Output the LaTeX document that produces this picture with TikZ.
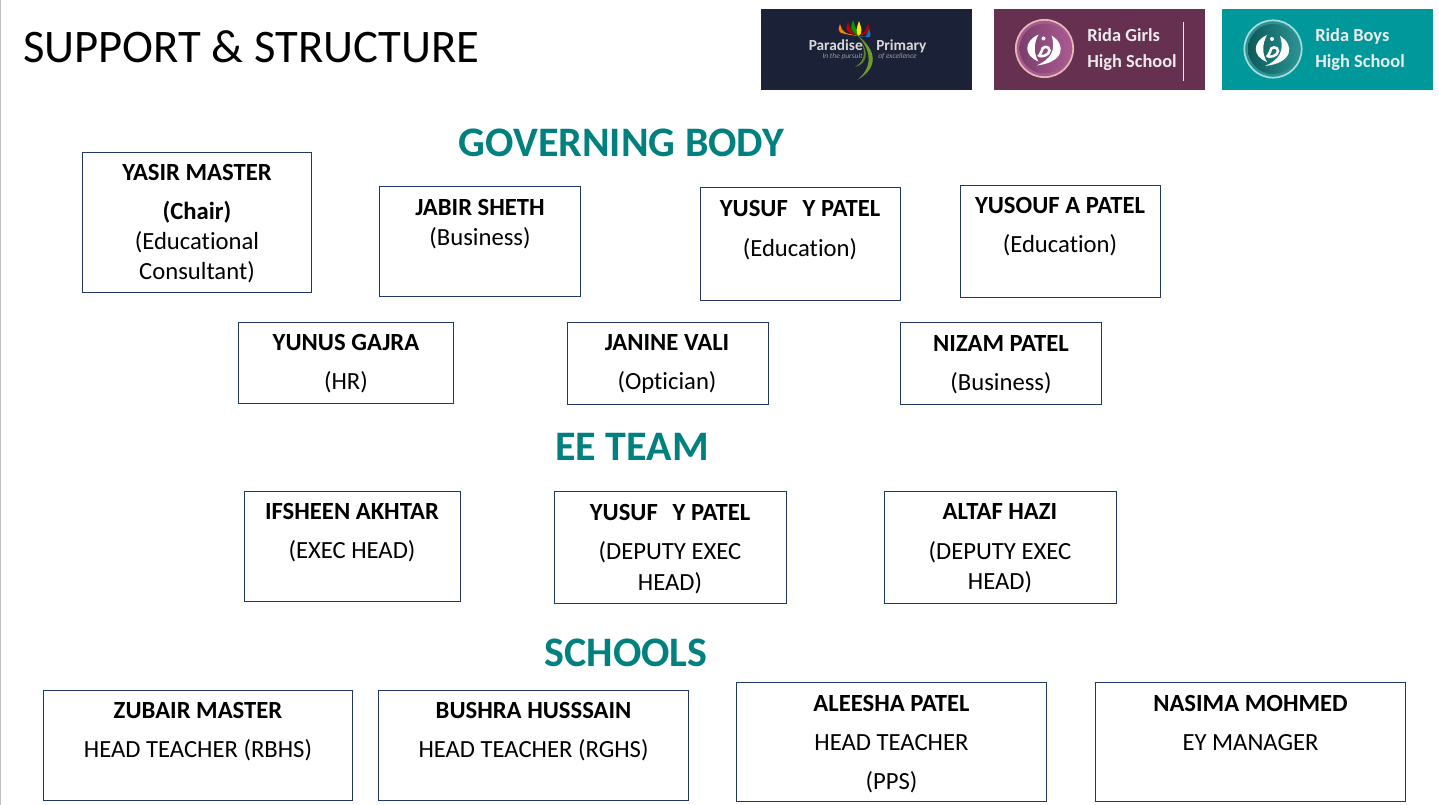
\documentclass[tikz,border=0pt]{standalone}
\usepackage{fontspec}
\setmainfont{Carlito}[Ligatures=CommonOff]
\definecolor{boxline}{HTML}{1F3864}
\definecolor{headteal}{HTML}{00807F}
\definecolor{navylogo}{HTML}{1B2238}
\definecolor{purplelogo}{HTML}{663050}
\definecolor{teallogo}{HTML}{00989A}
\definecolor{pinkring}{HTML}{E2B9B4}
\definecolor{purpleA}{HTML}{7A3F6A}
\definecolor{purpleB}{HTML}{A85A90}
\definecolor{tealA}{HTML}{0E5A5A}
\definecolor{tealB}{HTML}{2A9090}
\definecolor{stemgreen}{HTML}{6E9A2E}
\tikzset{
  personbox/.style={draw=boxline,line width=0.75pt,fill=white,rectangle,inner sep=0pt,outer sep=0pt},
  nameline/.style={anchor=base,inner sep=0pt,font=\fontsize{18.5}{18.5}\selectfont\bfseries,text=black},
  roleline/.style={anchor=base,inner sep=0pt,font=\fontsize{18.5}{18.5}\selectfont,text=black},
  headline/.style={anchor=base,inner sep=0pt,font=\fontsize{31.5}{31.5}\selectfont\bfseries,text=headteal},
  logotext/.style={anchor=base west,inner sep=0pt,font=\fontsize{13.8}{13.8}\selectfont\bfseries,text=white!92!black},
  logobg/.style={minimum width=158.25pt,minimum height=60.4pt,inner sep=0pt,outer sep=0pt,anchor=north west},
}
% \pbox{name}{x0}{y0}{x1}{y1}
\newcommand{\pbox}[5]{\node[personbox,minimum width=#4*0.75pt-#2*0.75pt,minimum height=#5*0.75pt-#3*0.75pt,anchor=north west] (#1) at (#2,#3) {};}
\newcommand{\petal}[3]{\fill[#3] (858,36) .. controls (#1-3,#2+9) .. (#1,#2) .. controls (#1+3,#2+9) .. (860,36) -- cycle;}
\newcommand{\emblem}[6]{% name, cx, cy, ring colour, left colour, right colour
  \node[circle,draw=#4,line width=1.3pt,fill=#6,minimum size=43pt,inner sep=0pt,outer sep=0pt] (#1) at (#2,#3) {};
  \shade[left color=#5,right color=#6] (#2,#3) circle (25);
  \fill[white] (#2-6,#3-14) .. controls (#2-21,#3-7) and (#2-21,#3+7) .. (#2-6,#3+13)
     .. controls (#2-11,#3+5) and (#2-11,#3-5) .. cycle;
  \fill[white] (#2+7,#3-13) .. controls (#2+22,#3-4) and (#2+20,#3+14) .. (#2-8,#3+17)
     .. controls (#2+6,#3+11) and (#2+12,#3+2) .. cycle;
  \draw[white,line width=1.9pt,line cap=round] (#2-6,#3+7) .. controls (#2-4,#3+9) and (#2+5,#3+7) .. (#2+5,#3+2)
     .. controls (#2+5,#3-3) and (#2-3,#3-3) .. (#2-3,#3+3) -- (#2-5,#3+7);
  \fill[white] (#2-1,#3-10) circle (2);
}
\begin{document}
\begin{tikzpicture}[x=0.75pt,y=-0.75pt]
\useasboundingbox (0,0) rectangle (1439,805);
\fill[white] (0,0) rectangle (1439,805);
\fill[black!25] (0,0) rectangle (1,805);

\node[anchor=base west,inner sep=0pt,font=\fontsize{35}{35}\selectfont] (title) at (23,63) {SUPPORT \& STRUCTURE};

% logos
\node[logobg,fill=navylogo] (logoP) at (761,9.5) {};
\petal{840}{24}{orange}
\petal{848}{22}{red!75!black}
\petal{853}{20}{green!60!black}
\petal{859}{21}{yellow!90!orange}
\petal{868}{23}{red!70!black}
\petal{869}{29}{cyan!50!blue}
\fill[stemgreen] (857,35) .. controls (877,50) and (879,68) .. (857,80)
   .. controls (873,68) and (872,50) .. cycle;
\fill[stemgreen!85!black] (861,42) .. controls (869,52) and (867,64) .. (855,67)
   .. controls (865,61) and (866,52) .. cycle;
\node[anchor=base east,inner sep=0pt,font=\fontsize{11.5}{11.5}\selectfont\bfseries,text=white!85!black] (parA) at (863,51) {Paradise};
\node[anchor=base west,inner sep=0pt,font=\fontsize{11.5}{11.5}\selectfont\bfseries,text=white!85!black] (parB) at (876,51) {Primary};
\node[anchor=base east,inner sep=0pt,font=\fontsize{5.6}{5.6}\selectfont\itshape,text=white!60!black] (parC) at (863,59) {In the pursuit};
\node[anchor=base west,inner sep=0pt,font=\fontsize{5.6}{5.6}\selectfont\itshape,text=white!60!black] (parD) at (878,59) {of excellence};

\node[logobg,fill=purplelogo] (logoG) at (994,9.5) {};
\emblem{emG}{1044.5}{48.5}{pinkring}{purpleA}{purpleB}
\node[logotext] (girlsA) at (1087,42) {Rida Girls};
\node[logotext] (girlsB) at (1087,68) {High School};
\draw[white!90!purplelogo,line width=0.6pt] (1183,22) -- (1183,81);

\node[logobg,fill=teallogo] (logoB) at (1222,9.5) {};
\emblem{emB}{1273}{49}{white!65!teallogo}{tealA}{tealB}
\node[logotext] (boysA) at (1315,42) {Rida Boys};
\node[logotext] (boysB) at (1315,68) {High School};

% headings
\node[headline] (hGov) at (621.5,157) {GOVERNING BODY};
\node[headline] (hEE) at (632,460) {EE TEAM};
\node[headline] (hSch) at (626,666) {SCHOOLS};

% governing body
\pbox{yasir}{82.5}{152.5}{311.5}{292.5}
\node[nameline] (yasirA) at (197,181) {YASIR MASTER};
\node[nameline] (yasirB) at (197,220) {(Chair)};
\node[roleline] (yasirC) at (197,250) {(Educational};
\node[roleline] (yasirD) at (197,280) {Consultant)};

\pbox{jabir}{379.5}{186.5}{580.5}{296.5}
\node[nameline] (jabirA) at (480,216) {JABIR SHETH};
\node[roleline] (jabirB) at (480,246) {(Business)};

\pbox{yusufa}{700.5}{187.5}{900.5}{300.5}
\node[nameline] (yusufaA) at (800,217) {YUSUF\hspace{0.6em}Y PATEL};
\node[roleline] (yusufaB) at (800,257) {(Education)};

\pbox{yusouf}{960.5}{185.5}{1160.5}{297.5}
\node[nameline] (yusoufA) at (1060,214) {YUSOUF A PATEL};
\node[roleline] (yusoufB) at (1060,253) {(Education)};

\pbox{yunus}{238.5}{322.5}{453.5}{403.5}
\node[nameline] (yunusA) at (346,351) {YUNUS GAJRA};
\node[roleline] (yunusB) at (346,390) {(HR)};

\pbox{janine}{567.5}{322.5}{768.5}{404.5}
\node[nameline] (janineA) at (667,351) {JANINE VALI};
\node[roleline] (janineB) at (667,390) {(Optician)};

\pbox{nizam}{900.5}{322.5}{1101.5}{404.5}
\node[nameline] (nizamA) at (1001,352) {NIZAM PATEL};
\node[roleline] (nizamB) at (1001,391) {(Business)};

% EE team
\pbox{ifsheen}{244.5}{491.5}{460.5}{601.5}
\node[nameline] (ifsheenA) at (352,519) {IFSHEEN AKHTAR};
\node[roleline] (ifsheenB) at (352,558) {(EXEC HEAD)};

\pbox{yusufb}{554.5}{491.5}{786.5}{603.5}
\node[nameline] (yusufbA) at (670,520) {YUSUF\hspace{0.6em}Y PATEL};
\node[roleline] (yusufbB) at (670,559) {(DEPUTY EXEC};
\node[roleline] (yusufbC) at (670,590) {HEAD)};

\pbox{altaf}{884.5}{491.5}{1116.5}{603.5}
\node[nameline] (altafA) at (1000,519) {ALTAF HAZI};
\node[roleline] (altafB) at (1000,559) {(DEPUTY EXEC};
\node[roleline] (altafC) at (1000,589) {HEAD)};

% schools
\pbox{zubair}{43.5}{690.5}{352.5}{800.5}
\node[nameline] (zubairA) at (198,718) {ZUBAIR MASTER};
\node[roleline] (zubairB) at (198,757) {HEAD TEACHER (RBHS)};

\pbox{bushra}{378.5}{690.5}{688.5}{800.5}
\node[nameline] (bushraA) at (533.5,718) {BUSHRA HUSSSAIN};
\node[roleline] (bushraB) at (533.5,757) {HEAD TEACHER (RGHS)};

\pbox{aleesha}{736.5}{682.5}{1046.5}{801.5}
\node[nameline] (aleeshaA) at (891.5,711) {ALEESHA PATEL};
\node[roleline] (aleeshaB) at (891.5,750) {HEAD TEACHER};
\node[roleline] (aleeshaC) at (891.5,789) {(PPS)};

\pbox{nasima}{1095.5}{682.5}{1405.5}{801.5}
\node[nameline] (nasimaA) at (1250.5,711) {NASIMA MOHMED};
\node[roleline] (nasimaB) at (1250.5,750) {EY MANAGER};
\end{tikzpicture}
\end{document}
